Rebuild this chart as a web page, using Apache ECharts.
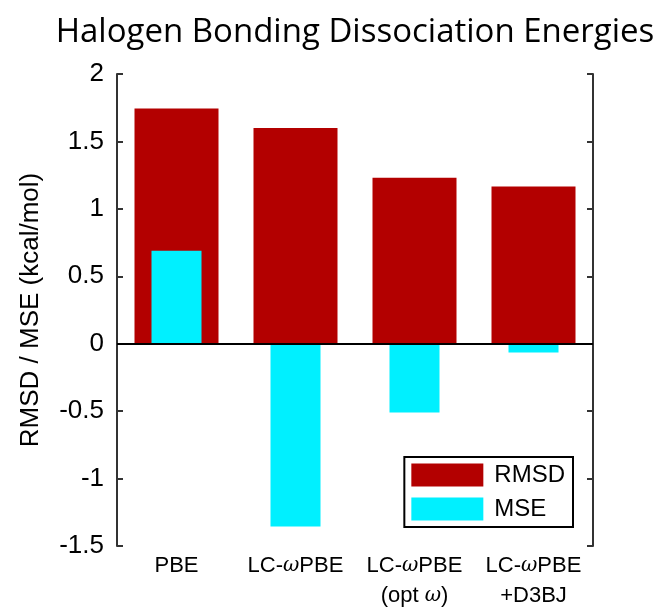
<!DOCTYPE html>
<html><head><meta charset="utf-8">
<script src="https://cdn.jsdelivr.net/npm/echarts@6/dist/echarts.min.js"></script>
<style>html,body{margin:0;padding:0;background:#fff}#c{width:660px;height:607px}</style>
</head><body><div id="c"></div>
<script>
const categories = ['PBE', 'LC-\u03c9PBE', 'LC-\u03c9PBE\n(opt \u03c9)', 'LC-\u03c9PBE\n+D3BJ'];
const rmsd = [1.745, 1.60, 1.23, 1.165];
const mse = [0.69, -1.355, -0.51, -0.065];
const yTicks = [-1.5, -1, -0.5, 0, 0.5, 1, 1.5, 2];

const chart = echarts.init(document.getElementById('c'));
const F = 'Liberation Sans, Arial, sans-serif';
const grid = {left: 117, right: 67, top: 74, bottom: 61, containLabel: false, outerBoundsMode: 'none'};
const xFmt = v => v.split('\n').map(l => l.split('\u03c9').map(p => p ? '{n|' + p + '}' : '').join('{w|\u03c9}')).join('\n');
chart.setOption({
  animation: false,
  title: {text: 'Halogen Bonding Dissociation Energies', left: 350, top: 11, textAlign: 'center',
    textStyle: {fontFamily: 'Open Sans, Lato, sans-serif', fontWeight: 'normal', fontSize: 33, color: '#000'}},
  grid: grid,
  legend: {
    right: 87, top: 457, orient: 'vertical', itemWidth: 72, itemHeight: 23, itemGap: 10,
    padding: [6, 8, 6, 7], borderColor: '#000', borderWidth: 2, backgroundColor: '#fff',
    textStyle: {fontFamily: F, fontSize: 24, color: '#000', padding: [0, 0, 0, 6]},
    icon: 'rect', data: ['RMSD', 'MSE']
  },
  xAxis: [
    {type: 'category', data: categories, position: 'bottom',
      axisLine: {lineStyle: {color: '#333', width: 2}},
      axisTick: {inside: true, alignWithLabel: true, length: 6, lineStyle: {color: '#333', width: 2}},
      axisLabel: {interval: 0, hideOverlap: false, fontFamily: F, fontSize: 22, color: '#000', margin: 5, lineHeight: 30,
        formatter: xFmt,
        rich: {
          n: {fontFamily: F, fontSize: 22, color: '#000', lineHeight: 30},
          w: {fontFamily: 'DejaVu Serif', fontStyle: 'italic', fontSize: 20, color: '#000', lineHeight: 30}
        }}},
    {type: 'category', data: categories, position: 'top',
      axisLine: {lineStyle: {color: '#333', width: 2}},
      axisTick: {inside: true, alignWithLabel: true, length: 6, lineStyle: {color: '#333', width: 2}},
      axisLabel: {show: false}}
  ],
  yAxis: [
    {type: 'value', min: -1.5, max: 2, interval: 0.5, position: 'left',
      name: 'RMSD / MSE (kcal/mol)', nameLocation: 'middle', nameGap: 73,
      nameTextStyle: {fontFamily: F, fontSize: 26, color: '#000'},
      axisLine: {show: true, lineStyle: {color: '#333', width: 2}},
      axisTick: {show: true, inside: true, length: 6, lineStyle: {color: '#333', width: 2}},
      splitLine: {show: false},
      axisLabel: {fontFamily: F, fontSize: 26, color: '#000', margin: 13,
        formatter: v => yTicks.includes(v) ? String(v) : ''}},
    {type: 'value', min: -1.5, max: 2, interval: 0.5, position: 'right',
      axisLine: {show: true, lineStyle: {color: '#333', width: 2}},
      axisTick: {show: true, inside: true, length: 6, lineStyle: {color: '#333', width: 2}},
      splitLine: {show: false}, axisLabel: {show: false}}
  ],
  series: [
    {name: 'RMSD', type: 'bar', xAxisIndex: 0, yAxisIndex: 0, data: rmsd, barWidth: 84,
      itemStyle: {color: '#b30000'}, z: 2,
      markLine: {silent: true, symbol: 'none', label: {show: false},
        lineStyle: {color: '#000', width: 2, type: 'solid'}, data: [{yAxis: 0}], z: 5}},
    {name: 'MSE', type: 'bar', xAxisIndex: 1, yAxisIndex: 0, data: mse, barWidth: 50,
      itemStyle: {color: '#00f0ff'}, z: 3}
  ]
});
</script></body></html>
